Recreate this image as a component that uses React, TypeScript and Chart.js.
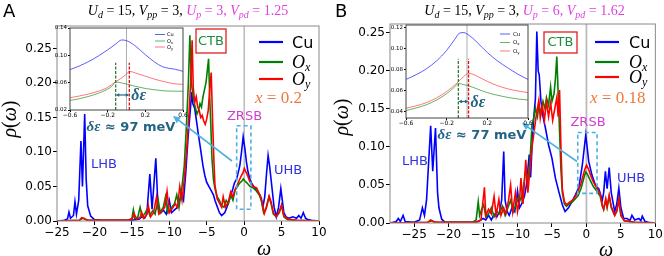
import React, { useEffect, useRef } from 'react';
import { Chart, registerables } from 'chart.js';
Chart.register(...registerables);

type Pt = [number, number];

// ---------- Panel A main spectra (omega, rho) ----------
const cuA: Pt[] = [[-25,0],[-24,0.001],[-23.6,0.003],[-23.4,0.013],[-23.2,0.004],[-22.8,0.008],[-22.6,0.028],[-22.4,0.01],[-22.1,0.03],[-21.8,0.116],[-21.6,0.05],[-21.3,0.155],[-21.1,0.06],[-20.9,0.022],[-20.5,0.007],[-20,0.002],[-19,0.001],[-15,0.001],[-14.5,0.002],[-14,0.003],[-13.7,0.006],[-13.3,0.004],[-13,0.01],[-12.6,0.068],[-12.3,0.017],[-11.8,0.091],[-11.5,0.018],[-11.1,0.012],[-10.8,0.016],[-10.4,0.01],[-10,0.03],[-9.7,0.012],[-9.3,0.016],[-8.9,0.02],[-8.4,0.038],[-8.1,0.03],[-7.8,0.07],[-7.5,0.12],[-7.2,0.16],[-7.0,0.187],[-6.85,0.17],[-6.6,0.163],[-6.3,0.14],[-6.1,0.124],[-5.9,0.11],[-5.7,0.095],[-5.5,0.08],[-5.25,0.066],[-5.0,0.056],[-4.8,0.052],[-4.6,0.048],[-4.4,0.044],[-4.1,0.038],[-3.9,0.03],[-3.7,0.024],[-3.5,0.018],[-3.3,0.012],[-3.0,0.008],[-2.8,0.01],[-2.6,0.012],[-2.3,0.02],[-2.0,0.03],[-1.7,0.04],[-1.5,0.047],[-1.3,0.055],[-1.0,0.061],[-0.8,0.07],[-0.57,0.081],[-0.35,0.1],[-0.13,0.122],[0.1,0.105],[0.3,0.086],[0.5,0.072],[0.76,0.061],[1.0,0.055],[1.4,0.048],[1.8,0.042],[2.1,0.038],[2.3,0.03],[2.5,0.02],[2.75,0.035],[3.0,0.07],[3.2,0.095],[3.4,0.08],[3.7,0.05],[4.0,0.02],[4.3,0.006],[4.6,0.02],[4.9,0.047],[5.1,0.03],[5.3,0.012],[5.6,0.006],[6.0,0.004],[6.5,0.006],[7.0,0.004],[7.3,0.008],[7.6,0.004],[7.9,0.012],[8.2,0.004],[8.5,0.002],[9,0.001],[10,0]];
const oxA: Pt[] = [[-25,0],[-22,0.001],[-21.6,0.004],[-21.3,0.003],[-20.8,0.001],[-15.5,0.001],[-15,0.003],[-14.8,0.016],[-14.6,0.004],[-14.2,0.006],[-13.9,0.02],[-13.6,0.006],[-13.2,0.012],[-12.9,0.018],[-12.6,0.008],[-12.2,0.015],[-11.9,0.01],[-11.5,0.031],[-11.2,0.012],[-10.8,0.02],[-10.5,0.035],[-10.2,0.012],[-9.8,0.018],[-9.3,0.025],[-9.0,0.038],[-8.7,0.02],[-8.3,0.05],[-8.0,0.08],[-7.7,0.14],[-7.45,0.2],[-7.25,0.269],[-7.05,0.2],[-6.8,0.18],[-6.6,0.168],[-6.3,0.155],[-6.1,0.16],[-5.9,0.17],[-5.7,0.165],[-5.5,0.18],[-5.3,0.19],[-5.1,0.2],[-4.95,0.215],[-4.75,0.235],[-4.6,0.18],[-4.45,0.139],[-4.3,0.091],[-4.1,0.06],[-3.9,0.047],[-3.6,0.035],[-3.3,0.03],[-3.0,0.022],[-2.7,0.02],[-2.4,0.03],[-2.1,0.025],[-1.8,0.038],[-1.5,0.03],[-1.2,0.045],[-0.9,0.05],[-0.6,0.055],[-0.3,0.058],[-0.1,0.061],[0.1,0.058],[0.4,0.055],[0.8,0.05],[1.2,0.048],[1.6,0.044],[2.0,0.038],[2.3,0.03],[2.6,0.012],[2.9,0.018],[3.3,0.035],[3.6,0.025],[3.9,0.01],[4.3,0.006],[4.7,0.012],[5.0,0.023],[5.3,0.006],[5.8,0.002],[7,0.001],[10,0]];
const oyA: Pt[] = [[-25,0],[-22,0.001],[-21.7,0.005],[-21.4,0.004],[-21,0.001],[-15.5,0.001],[-14.9,0.004],[-14.7,0.011],[-14.4,0.003],[-13.9,0.005],[-13.7,0.013],[-13.4,0.004],[-13.0,0.01],[-12.8,0.022],[-12.5,0.006],[-12.1,0.012],[-11.7,0.035],[-11.4,0.01],[-11.0,0.014],[-10.6,0.02],[-10.3,0.043],[-10.0,0.012],[-9.6,0.018],[-9.2,0.025],[-8.9,0.02],[-8.6,0.05],[-8.3,0.03],[-8.0,0.06],[-7.7,0.1],[-7.4,0.15],[-7.15,0.2],[-6.95,0.262],[-6.8,0.194],[-6.6,0.172],[-6.4,0.18],[-6.2,0.165],[-6.0,0.16],[-5.8,0.15],[-5.6,0.153],[-5.4,0.145],[-5.2,0.14],[-5.0,0.148],[-4.8,0.16],[-4.6,0.19],[-4.4,0.215],[-4.2,0.14],[-4.05,0.09],[-3.9,0.052],[-3.6,0.032],[-3.3,0.026],[-3.0,0.02],[-2.8,0.035],[-2.5,0.02],[-2.1,0.028],[-1.8,0.042],[-1.5,0.035],[-1.25,0.045],[-1.0,0.05],[-0.7,0.058],[-0.4,0.065],[-0.15,0.07],[0.03,0.076],[0.2,0.072],[0.5,0.065],[0.76,0.057],[1.2,0.05],[1.66,0.048],[2.0,0.04],[2.3,0.033],[2.7,0.011],[3.0,0.02],[3.35,0.036],[3.6,0.028],[3.9,0.012],[4.3,0.006],[4.7,0.014],[5.0,0.023],[5.3,0.008],[5.8,0.003],[7,0.001],[10,0]];

// ---------- Panel B main spectra ----------
const cuB: Pt[] = [[-28.5,0],[-27.6,0.002],[-27.3,0.006],[-27.0,0.002],[-26.6,0.01],[-26.3,0.002],[-25,0.001],[-24.2,0.004],[-23.8,0.02],[-23.5,0.01],[-23.2,0.03],[-22.6,0.128],[-22.3,0.068],[-21.9,0.125],[-21.6,0.04],[-21.4,0.02],[-21.0,0.005],[-20.5,0.001],[-16,0.001],[-15.5,0.003],[-15,0.006],[-14.6,0.004],[-14.2,0.01],[-13.8,0.004],[-13.4,0.012],[-13,0.008],[-12.6,0.015],[-12.3,0.03],[-12.0,0.094],[-11.8,0.03],[-11.5,0.015],[-11.2,0.01],[-10.8,0.02],[-10.4,0.015],[-10.0,0.042],[-9.7,0.02],[-9.4,0.025],[-9.0,0.035],[-8.7,0.05],[-8.5,0.07],[-8.3,0.09],[-8.1,0.06],[-7.9,0.1],[-7.65,0.138],[-7.4,0.164],[-7.2,0.252],[-7.0,0.2],[-6.85,0.195],[-6.6,0.16],[-6.3,0.14],[-5.95,0.125],[-5.5,0.103],[-5.0,0.085],[-4.5,0.059],[-4.0,0.041],[-3.5,0.024],[-3.1,0.015],[-2.6,0.02],[-2.1,0.028],[-1.6,0.037],[-1.1,0.047],[-0.6,0.076],[-0.3,0.1],[-0.1,0.116],[0.1,0.1],[0.33,0.081],[0.8,0.063],[1.3,0.05],[1.8,0.045],[2.3,0.03],[2.5,0.04],[2.75,0.068],[3.0,0.045],[3.3,0.073],[3.6,0.04],[4.1,0.015],[4.4,0.025],[4.7,0.046],[5.0,0.02],[5.4,0.006],[5.9,0.006],[6.3,0.003],[6.6,0.01],[7.0,0.004],[7.6,0.006],[7.9,0.003],[8.1,0.009],[8.5,0.002],[9,0.001],[10,0]];
const oxB: Pt[] = [[-28.5,0],[-23,0.001],[-22.5,0.003],[-22,0.001],[-16.5,0.001],[-16,0.004],[-15.7,0.028],[-15.5,0.01],[-15.2,0.018],[-14.9,0.024],[-14.6,0.008],[-14.2,0.012],[-13.8,0.02],[-13.4,0.008],[-13.0,0.015],[-12.6,0.012],[-12.2,0.022],[-11.8,0.01],[-11.4,0.02],[-11.0,0.03],[-10.6,0.015],[-10.2,0.025],[-9.8,0.035],[-9.5,0.03],[-9.1,0.05],[-8.8,0.07],[-8.5,0.055],[-8.2,0.08],[-7.9,0.129],[-7.6,0.14],[-7.4,0.151],[-7.1,0.14],[-6.9,0.155],[-6.6,0.145],[-6.3,0.16],[-6.0,0.15],[-5.8,0.165],[-5.5,0.155],[-5.2,0.179],[-5.0,0.16],[-4.7,0.17],[-4.5,0.19],[-4.3,0.219],[-4.1,0.17],[-3.9,0.12],[-3.7,0.07],[-3.5,0.04],[-3.2,0.025],[-2.9,0.022],[-2.5,0.025],[-2.0,0.028],[-1.6,0.032],[-1.2,0.036],[-0.8,0.045],[-0.5,0.055],[-0.25,0.063],[-0.07,0.067],[0.2,0.063],[0.5,0.057],[1.0,0.048],[1.5,0.042],[2.0,0.035],[2.3,0.022],[2.5,0.018],[2.8,0.03],[3.0,0.02],[3.3,0.035],[3.6,0.02],[4.1,0.01],[4.4,0.015],[4.7,0.03],[5.0,0.01],[5.5,0.003],[7,0.001],[10,0]];
const oyB: Pt[] = [[-28.5,0],[-23,0.001],[-22.6,0.004],[-22.2,0.002],[-21.8,0.001],[-16,0.001],[-15.3,0.004],[-14.8,0.047],[-14.6,0.01],[-14.2,0.018],[-13.8,0.012],[-13.4,0.035],[-13.1,0.01],[-12.7,0.031],[-12.4,0.01],[-12.0,0.02],[-11.7,0.012],[-11.3,0.03],[-11.0,0.05],[-10.7,0.015],[-10.3,0.04],[-10.0,0.015],[-9.7,0.03],[-9.5,0.059],[-9.2,0.025],[-8.8,0.083],[-8.5,0.04],[-8.2,0.07],[-7.9,0.1],[-7.6,0.12],[-7.3,0.14],[-6.9,0.162],[-6.7,0.138],[-6.4,0.155],[-6.1,0.135],[-5.8,0.16],[-5.5,0.14],[-5.2,0.158],[-4.9,0.135],[-4.6,0.15],[-4.3,0.165],[-4.1,0.14],[-3.9,0.175],[-3.7,0.1],[-3.5,0.045],[-3.2,0.028],[-2.9,0.024],[-2.5,0.027],[-2.0,0.03],[-1.6,0.035],[-1.2,0.042],[-0.8,0.052],[-0.5,0.062],[-0.25,0.07],[0.01,0.076],[0.3,0.071],[0.6,0.063],[1.0,0.054],[1.5,0.046],[2.0,0.038],[2.3,0.024],[2.5,0.018],[2.8,0.032],[3.0,0.022],[3.3,0.037],[3.6,0.022],[4.1,0.01],[4.4,0.016],[4.7,0.032],[5.0,0.01],[5.5,0.003],[7,0.001],[10,0]];

// ---------- Insets (zoom on ZRSB) ----------
const cuInsetA: Pt[] = [[-0.6,0.079],[-0.5,0.0845],[-0.4,0.091],[-0.3,0.099],[-0.2,0.108],[-0.12,0.116],[-0.05,0.1225],[0.0,0.1215],[0.05,0.118],[0.1,0.113],[0.2,0.101],[0.3,0.09],[0.38,0.0835],[0.45,0.081],[0.52,0.0795],[0.6,0.0765]];
const oxInsetA: Pt[] = [[-0.6,0.034],[-0.5,0.0365],[-0.4,0.04],[-0.3,0.0445],[-0.2,0.0505],[-0.15,0.0555],[-0.115,0.061],[-0.05,0.0595],[0.0,0.058],[0.1,0.0545],[0.2,0.0515],[0.3,0.0495],[0.4,0.048],[0.5,0.0475],[0.6,0.0475]];
const oyInsetA: Pt[] = [[-0.6,0.038],[-0.5,0.0405],[-0.4,0.0435],[-0.3,0.0475],[-0.2,0.053],[-0.115,0.0615],[-0.05,0.067],[0.0,0.0725],[0.03,0.0765],[0.1,0.074],[0.2,0.0695],[0.3,0.065],[0.4,0.0615],[0.5,0.0585],[0.6,0.0575]];
const cuInsetB: Pt[] = [[-0.6,0.0705],[-0.5,0.075],[-0.4,0.0805],[-0.3,0.088],[-0.2,0.098],[-0.12,0.1085],[-0.07,0.1145],[-0.03,0.1148],[0.0,0.1135],[0.05,0.11],[0.1,0.1055],[0.2,0.096],[0.3,0.088],[0.4,0.0815],[0.5,0.0755],[0.6,0.0705]];
const oxInsetB: Pt[] = [[-0.6,0.041],[-0.5,0.0435],[-0.4,0.0465],[-0.3,0.051],[-0.2,0.057],[-0.12,0.0635],[-0.085,0.0667],[-0.03,0.0655],[0.015,0.0645],[0.1,0.0615],[0.2,0.058],[0.3,0.0555],[0.4,0.0535],[0.5,0.052],[0.6,0.051]];
const oyInsetB: Pt[] = [[-0.6,0.0432],[-0.5,0.0455],[-0.4,0.0485],[-0.3,0.053],[-0.2,0.059],[-0.1,0.067],[-0.04,0.0725],[0.015,0.0762],[0.08,0.0745],[0.15,0.071],[0.25,0.0665],[0.35,0.063],[0.45,0.0605],[0.6,0.058]];

// peak positions (Ox, Oy) marked in insets
const peaksA = [-0.115, 0.03];
const peaksB = [-0.085, 0.015];

// ticks
const mainXTicks = [-25, -20, -15, -10, -5, 0, 5, 10];
const mainYTicks = [0, 0.05, 0.1, 0.15, 0.2, 0.25];
const insetXTicks = [-0.6, -0.2, 0.2, 0.6];
const insetYTicksA = [0.02, 0.06, 0.1, 0.14];
const insetYTicksB = [0.04, 0.06, 0.08, 0.1, 0.12];

// parameters
const paramsA = { Ud: 15, Vpp: 3, Up: 3, Vpd: 1.25, x: 0.2, de: 97 };
const paramsB = { Ud: 15, Vpp: 3, Up: 6, Vpd: 1.62, x: 0.18, de: 77 };

const BLUE = '#0000ff';
const GREEN = '#008000';
const RED = '#ff0000';
const MAGENTA = '#e040e0';
const ORANGE = '#f0773c';
const TEAL = '#236384';
const LIGHTBLUE = '#4db0e0';
const LABELBLUE = '#3333dd';
const SERIF = '"Liberation Serif", "DejaVu Serif", serif';
const SANS = '"DejaVu Sans", sans-serif';

type Seg = { t: string; f: string; c: string; dy?: number };

function drawRich(ctx: CanvasRenderingContext2D, segs: Seg[], x: number, y: number, align: 'left' | 'center' | 'right') {
  let w = 0;
  for (const s of segs) { ctx.font = s.f; w += ctx.measureText(s.t).width; }
  let cx = align === 'left' ? x : align === 'center' ? x - w / 2 : x - w;
  ctx.textAlign = 'left';
  ctx.textBaseline = 'alphabetic';
  for (const s of segs) {
    ctx.font = s.f; ctx.fillStyle = s.c;
    ctx.fillText(s.t, cx, y + (s.dy || 0));
    cx += ctx.measureText(s.t).width;
  }
}

function arrowHead(ctx: CanvasRenderingContext2D, x1: number, y1: number, x2: number, y2: number, size: number) {
  const a = Math.atan2(y2 - y1, x2 - x1);
  ctx.beginPath();
  ctx.moveTo(x2, y2);
  ctx.lineTo(x2 - size * Math.cos(a - 0.45), y2 - size * Math.sin(a - 0.45));
  ctx.lineTo(x2 - size * Math.cos(a + 0.45), y2 - size * Math.sin(a + 0.45));
  ctx.closePath();
  ctx.fill();
}

function fmtNum(v: number, d: number) {
  const s = Math.abs(v).toFixed(d);
  return v < -1e-9 ? '\u2212' + s : s;
}

function titleSegs(p: typeof paramsA): Seg[] {
  const F = 14;
  const it = `italic ${F}px ${SERIF}`, rm = `${F}px ${SERIF}`, sub = `italic ${Math.round(F * 0.72)}px ${SERIF}`;
  const K = '#000', M = MAGENTA;
  return [
    { t: 'U', f: it, c: K }, { t: 'd', f: sub, c: K, dy: 3 }, { t: ` = ${p.Ud}, `, f: rm, c: K },
    { t: 'V', f: it, c: K }, { t: 'pp', f: sub, c: K, dy: 3 }, { t: ` = ${p.Vpp}, `, f: rm, c: K },
    { t: 'U', f: it, c: M }, { t: 'p', f: sub, c: M, dy: 3 }, { t: ` = ${p.Up}, `, f: rm, c: M },
    { t: 'V', f: it, c: M }, { t: 'pd', f: sub, c: M, dy: 3 }, { t: ` = ${p.Vpd}`, f: rm, c: M },
  ];
}

type Decor = {
  p: typeof paramsA; letter: string; titleX: number;
  legLineX: number; legTextX: number; legY: number[];
  xLab: [number, number]; ctb: [number, number, number, number];
  zrsb: [number, number]; lhb: [number, number]; uhb: [number, number];
  box: [number, number, number, number]; arrow: [number, number, number, number];
  de: [number, number]; rho: [number, number]; omega: [number, number];
  zeroColor: string; zeroWidth: number;
};

function mainPlugin(d: Decor) {
  return {
    id: 'decor',
    beforeDatasetsDraw(chart: any) {
      const { ctx, chartArea: a, scales } = chart;
      const x0 = scales.x.getPixelForValue(0);
      ctx.save();
      ctx.strokeStyle = d.zeroColor; ctx.lineWidth = d.zeroWidth;
      ctx.beginPath(); ctx.moveTo(x0, a.top); ctx.lineTo(x0, a.bottom); ctx.stroke();
      ctx.restore();
    },
    afterDatasetsDraw(chart: any) {
      const { ctx, chartArea: a, scales } = chart;
      const X = (v: number) => scales.x.getPixelForValue(v);
      const Y = (v: number) => scales.y.getPixelForValue(v);
      ctx.save();
      // frame
      ctx.strokeStyle = '#8a8a8a'; ctx.lineWidth = 1;
      ctx.strokeRect(a.left, a.top, a.right - a.left, a.bottom - a.top);
      // dashed box around ZRSB
      ctx.strokeStyle = LIGHTBLUE; ctx.lineWidth = 1.6; ctx.setLineDash([4, 3]);
      const bx = X(d.box[0]), bx2 = X(d.box[1]), by = Y(d.box[3]), by2 = Y(d.box[2]);
      ctx.strokeRect(bx, by, bx2 - bx, by2 - by);
      ctx.setLineDash([]);
      // arrow to inset
      const [ax1, ay1, ax2, ay2] = d.arrow;
      ctx.lineWidth = 1.6; ctx.strokeStyle = LIGHTBLUE; ctx.fillStyle = LIGHTBLUE;
      ctx.beginPath(); ctx.moveTo(ax1, ay1); ctx.lineTo(ax2 + (ax1 - ax2) * 0.06, ay2 + (ay1 - ay2) * 0.06); ctx.stroke();
      arrowHead(ctx, ax1, ay1, ax2, ay2, 8);
      // CTB box
      const [cx, cy, cw, ch] = d.ctb;
      ctx.fillStyle = '#fff'; ctx.fillRect(cx, cy, cw, ch);
      ctx.strokeStyle = '#e02020'; ctx.lineWidth = 1.3; ctx.strokeRect(cx, cy, cw, ch);
      ctx.fillStyle = '#1e8c3c'; ctx.font = `13px ${SANS}`; ctx.textAlign = 'center'; ctx.textBaseline = 'middle';
      ctx.fillText('CTB', cx + cw / 2, cy + ch / 2 + 0.5);
      // band labels
      ctx.fillStyle = '#d03fd0'; ctx.fillText('ZRSB', d.zrsb[0], d.zrsb[1]);
      ctx.fillStyle = LABELBLUE;
      ctx.fillText('LHB', d.lhb[0], d.lhb[1]);
      ctx.fillText('UHB', d.uhb[0], d.uhb[1]);
      // delta epsilon text
      drawRich(ctx, [
        { t: '\u03b4\u03b5', f: `italic bold 15px ${SERIF}`, c: TEAL },
        { t: ` \u2248 ${d.p.de} meV`, f: `bold 13px ${SANS}`, c: TEAL },
      ], d.de[0], d.de[1] + 5, 'center');
      // doping
      drawRich(ctx, [
        { t: 'x', f: `italic 17px ${SERIF}`, c: ORANGE },
        { t: ` = ${d.p.x}`, f: `17px ${SERIF}`, c: ORANGE },
      ], d.xLab[0], d.xLab[1], 'left');
      // legend
      const cols = [BLUE, GREEN, RED];
      cols.forEach((c, i) => {
        ctx.strokeStyle = c; ctx.lineWidth = 2.2;
        ctx.beginPath(); ctx.moveTo(d.legLineX, d.legY[i]); ctx.lineTo(d.legLineX + 24, d.legY[i]); ctx.stroke();
      });
      drawRich(ctx, [{ t: 'Cu', f: `16px ${SANS}`, c: '#000' }], d.legTextX, d.legY[0] + 6, 'left');
      drawRich(ctx, [{ t: 'O', f: `italic 18px ${SERIF}`, c: '#000' }, { t: 'x', f: `italic 12px ${SERIF}`, c: '#000', dy: 3 }], d.legTextX, d.legY[1] + 6, 'left');
      drawRich(ctx, [{ t: 'O', f: `italic 18px ${SERIF}`, c: '#000' }, { t: 'y', f: `italic 12px ${SERIF}`, c: '#000', dy: 3 }], d.legTextX, d.legY[2] + 6, 'left');
      ctx.restore();
      // outside texts
      ctx.save();
      ctx.fillStyle = '#000'; ctx.font = `18px ${SANS}`; ctx.textAlign = 'left'; ctx.textBaseline = 'alphabetic';
      ctx.fillText(d.letter, 3, 17);
      drawRich(ctx, titleSegs(d.p), d.titleX, 14.5, 'center');
      drawRich(ctx, [{ t: '\u03c9', f: `italic 20px ${SERIF}`, c: '#000' }], d.omega[0], d.omega[1] + 5, 'center');
      ctx.translate(d.rho[0], d.rho[1]);
      ctx.rotate(-Math.PI / 2);
      drawRich(ctx, [
        { t: '\u03c1', f: `italic 20px ${SERIF}`, c: '#000' },
        { t: '(', f: `20px ${SERIF}`, c: '#000' },
        { t: '\u03c9', f: `italic 20px ${SERIF}`, c: '#000' },
        { t: ')', f: `20px ${SERIF}`, c: '#000' },
      ], 0, 6, 'center');
      ctx.restore();
    },
  };
}

function ds(label: string, pts: Pt[], color: string, w: number, smooth: boolean) {
  return {
    label, data: pts.map(([x, y]) => ({ x, y })), borderColor: color, backgroundColor: color,
    borderWidth: w, pointRadius: 0, fill: false, tension: smooth ? 0.4 : 0,
    cubicInterpolationMode: smooth ? 'monotone' : 'default',
  };
}

function makeMain(canvas: HTMLCanvasElement, series: Pt[][], xmin: number, ymax: number, pad: { top: number; right: number }, yW: number, xH: number, decor: Decor) {
  return new Chart(canvas, {
    type: 'line',
    data: { datasets: [ds('Oy', series[2], RED, 1.6, false), ds('Ox', series[1], GREEN, 1.6, false), ds('Cu', series[0], BLUE, 1.6, false)] as any },
    options: {
      animation: false, responsive: false, devicePixelRatio: 1,
      layout: { padding: { left: 0, right: pad.right, top: pad.top, bottom: 0 } },
      plugins: { legend: { display: false }, tooltip: { enabled: false } },
      scales: {
        x: {
          type: 'linear', min: xmin, max: 10,
          afterBuildTicks: (s: any) => { s.ticks = mainXTicks.map((v) => ({ value: v })); },
          afterFit: (s: any) => { s.height = xH; },
          ticks: { callback: (v: any) => fmtNum(v, 0), font: { family: SANS, size: 12 }, color: '#000', padding: 1, maxRotation: 0, autoSkip: false },
          grid: { display: true, drawOnChartArea: false, drawTicks: true, tickLength: 4, color: '#000' },
          border: { display: false },
        },
        y: {
          type: 'linear', min: 0, max: ymax,
          afterBuildTicks: (s: any) => { s.ticks = mainYTicks.map((v) => ({ value: v })); },
          afterFit: (s: any) => { s.width = yW; },
          ticks: { callback: (v: any) => fmtNum(v, 2), font: { family: SANS, size: 12 }, color: '#000', padding: 1, autoSkip: false },
          grid: { display: true, drawOnChartArea: false, drawTicks: true, tickLength: 4, color: '#000' },
          border: { display: false },
        },
      },
    } as any,
    plugins: [mainPlugin(decor)] as any,
  });
}

type InsetDecor = { peaks: number[]; dashTop: number; arrowY: number; legLineX: number; legTextX: number; legY: number[]; legFont: number };

function insetPlugin(d: InsetDecor) {
  return {
    id: 'insetDecor',
    beforeDraw(chart: any) {
      const { ctx, chartArea: a } = chart;
      ctx.save(); ctx.fillStyle = '#fff'; ctx.fillRect(a.left, a.top, a.right - a.left, a.bottom - a.top); ctx.restore();
    },
    beforeDatasetsDraw(chart: any) {
      const { ctx, chartArea: a, scales } = chart;
      const x0 = scales.x.getPixelForValue(0);
      ctx.save(); ctx.strokeStyle = '#999'; ctx.lineWidth = 0.8;
      ctx.beginPath(); ctx.moveTo(x0, a.top); ctx.lineTo(x0, a.bottom); ctx.stroke(); ctx.restore();
    },
    afterDatasetsDraw(chart: any) {
      const { ctx, chartArea: a, scales } = chart;
      const X = (v: number) => scales.x.getPixelForValue(v);
      const Y = (v: number) => scales.y.getPixelForValue(v);
      ctx.save();
      const gx = X(d.peaks[0]), rx = X(d.peaks[1]);
      ctx.setLineDash([3, 1.5]); ctx.lineWidth = 1.3;
      ctx.strokeStyle = '#2e7d32';
      ctx.beginPath(); ctx.moveTo(gx, a.bottom); ctx.lineTo(gx, Y(d.dashTop)); ctx.stroke();
      ctx.strokeStyle = '#dd1111';
      ctx.beginPath(); ctx.moveTo(rx, a.bottom); ctx.lineTo(rx, Y(d.dashTop)); ctx.stroke();
      ctx.setLineDash([]);
      // double arrow
      const ay = Y(d.arrowY);
      ctx.strokeStyle = TEAL; ctx.fillStyle = TEAL; ctx.lineWidth = 1.2;
      ctx.beginPath(); ctx.moveTo(gx + 2, ay); ctx.lineTo(rx - 2, ay); ctx.stroke();
      arrowHead(ctx, rx, ay, gx, ay, 4);
      arrowHead(ctx, gx, ay, rx, ay, 4);
      drawRich(ctx, [{ t: '\u03b4\u03b5', f: `italic bold 16px ${SERIF}`, c: TEAL }], rx + 2, ay + 5, 'left');
      // legend
      const cols = ['rgba(40,40,255,0.75)', 'rgba(0,128,0,0.6)', 'rgba(255,30,30,0.6)'];
      const labs = [[{ t: 'Cu' }], [{ t: 'O' }, { t: 'x', sub: true }], [{ t: 'O' }, { t: 'y', sub: true }]];
      cols.forEach((c, i) => {
        ctx.strokeStyle = c; ctx.lineWidth = 1;
        ctx.beginPath(); ctx.moveTo(d.legLineX, d.legY[i]); ctx.lineTo(d.legLineX + 10, d.legY[i]); ctx.stroke();
        drawRich(ctx, labs[i].map((s: any) => ({ t: s.t, f: `${s.sub ? d.legFont * 0.7 : d.legFont}px ${SANS}`, c: '#000', dy: s.sub ? 1 : 0 })), d.legTextX, d.legY[i] + d.legFont * 0.35, 'left');
      });
      // frame
      ctx.strokeStyle = '#444'; ctx.lineWidth = 1;
      ctx.strokeRect(a.left, a.top, a.right - a.left, a.bottom - a.top);
      ctx.restore();
    },
  };
}

function makeInset(canvas: HTMLCanvasElement, series: Pt[][], ymin: number, ymax: number, yTicks: number[], pad: { top: number; right: number }, yW: number, xH: number, decor: InsetDecor) {
  return new Chart(canvas, {
    type: 'line',
    data: { datasets: [ds('Oy', series[2], 'rgba(255,30,30,0.6)', 1, true), ds('Ox', series[1], 'rgba(0,128,0,0.6)', 1, true), ds('Cu', series[0], 'rgba(40,40,255,0.75)', 1, true)] as any },
    options: {
      animation: false, responsive: false, devicePixelRatio: 1,
      layout: { padding: { left: 0, right: pad.right, top: pad.top, bottom: 0 } },
      plugins: { legend: { display: false }, tooltip: { enabled: false } },
      scales: {
        x: {
          type: 'linear', min: -0.6, max: 0.6,
          afterBuildTicks: (s: any) => { s.ticks = insetXTicks.map((v) => ({ value: v })); },
          afterFit: (s: any) => { s.height = xH; },
          ticks: { callback: (v: any) => fmtNum(v, 1), font: { family: SANS, size: 6 }, color: '#000', padding: 0, maxRotation: 0, autoSkip: false },
          grid: { display: true, drawOnChartArea: false, drawTicks: true, tickLength: 2, color: '#000' },
          border: { display: false },
        },
        y: {
          type: 'linear', min: ymin, max: ymax,
          afterBuildTicks: (s: any) => { s.ticks = yTicks.map((v) => ({ value: v })); },
          afterFit: (s: any) => { s.width = yW; },
          ticks: { callback: (v: any) => fmtNum(v, 2), font: { family: SANS, size: 5.5 }, color: '#000', padding: 1, autoSkip: false },
          grid: { display: true, drawOnChartArea: false, drawTicks: true, tickLength: 2, color: '#000' },
          border: { display: false },
        },
      },
    } as any,
    plugins: [insetPlugin(decor)] as any,
  });
}

export default function App() {
  const refA = useRef<HTMLCanvasElement>(null);
  const refB = useRef<HTMLCanvasElement>(null);
  const refIA = useRef<HTMLCanvasElement>(null);
  const refIB = useRef<HTMLCanvasElement>(null);

  useEffect(() => {
    const decorA: Decor = {
      p: paramsA, letter: 'A', titleX: 188,
      legLineX: 259, legTextX: 292, legY: [42, 62, 79],
      xLab: [255, 103], ctb: [196, 29, 30, 24],
      zrsb: [244.5, 117], lhb: [104, 165], uhb: [288, 171],
      box: [-1, 0.9, 0.017, 0.138], arrow: [232, 161, 173, 116],
      de: [131, 126], rho: [10, 119], omega: [264, 250],
      zeroColor: '#999', zeroWidth: 1,
    };
    const decorB: Decor = {
      p: paramsB, letter: 'B', titleX: 192.5,
      legLineX: 263, legTextX: 297, legY: [42, 62, 77],
      xLab: [258, 103], ctb: [212, 32, 33, 21],
      zrsb: [256, 123], lhb: [83, 162], uhb: [299, 179],
      box: [-1.26, 1.54, 0.039, 0.119], arrow: [245, 161.5, 190, 123],
      de: [150, 134], rho: [10, 117], omega: [274, 251],
      zeroColor: '#bbb', zeroWidth: 1.8,
    };
    const charts = [
      makeMain(refA.current!, [cuA, oxA, oyA], -25, 0.2826, { top: 26, right: 13 }, 57, 35, decorA),
      makeMain(refB.current!, [cuB, oxB, oyB], -28.5, 0.2618, { top: 24, right: 7 }, 58, 33, decorB),
      makeInset(refIA.current!, [cuInsetA, oxInsetA, oyInsetA], 0.02, 0.14, insetYTicksA, { top: 6, right: 7 }, 20, 12,
        { peaks: peaksA, dashTop: 0.089, arrowY: 0.042, legLineX: 105, legTextX: 117, legY: [12.5, 19, 25], legFont: 5 }),
      makeInset(refIB.current!, [cuInsetB, oxInsetB, oyInsetB], 0.034, 0.122, insetYTicksB, { top: 5, right: 8 }, 20, 12,
        { peaks: peaksB, dashTop: 0.09, arrowY: 0.0496, legLineX: 114, legTextX: 127, legY: [14, 22.5, 31], legFont: 5.5 }),
    ];
    return () => charts.forEach((c) => c.destroy());
  }, []);

  return (
    <div style={{ position: 'fixed', left: 0, top: 0, width: 664, height: 256, background: '#fff', overflow: 'hidden' }}>
      <canvas ref={refA} width={332} height={256} style={{ position: 'absolute', left: 0, top: 0 }} />
      <canvas ref={refB} width={332} height={256} style={{ position: 'absolute', left: 332, top: 0 }} />
      <canvas ref={refIA} width={140} height={100} style={{ position: 'absolute', left: 50, top: 22 }} />
      <canvas ref={refIB} width={150} height={110} style={{ position: 'absolute', left: 386, top: 20 }} />
    </div>
  );
}
